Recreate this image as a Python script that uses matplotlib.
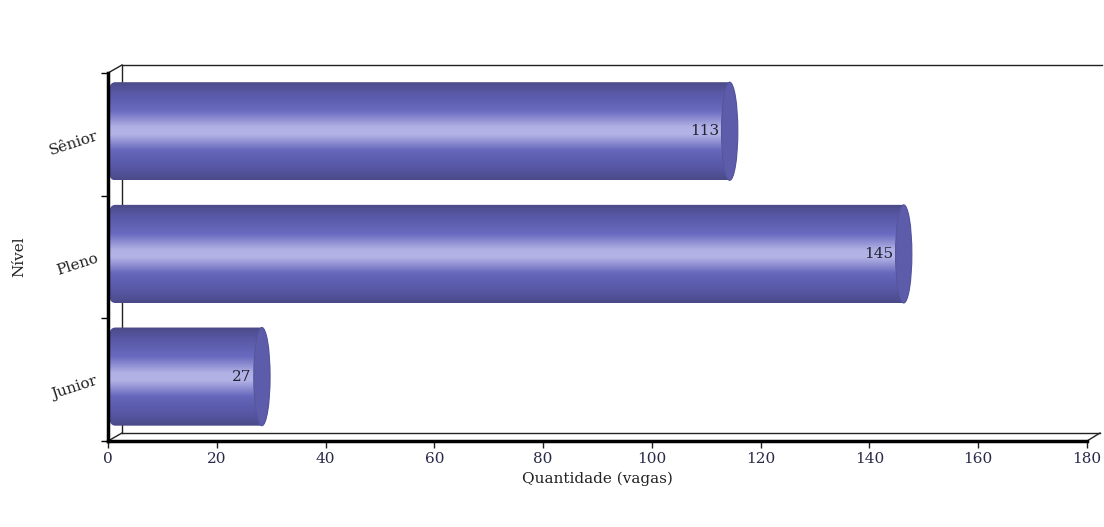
import matplotlib.pyplot as plt
import numpy as np
from matplotlib.path import Path
from matplotlib.patches import PathPatch, Ellipse
from matplotlib.colors import LinearSegmentedColormap

# data
niveis = ["Junior", "Pleno", "Sênior"]
vagas = [27, 145, 113]
x_ticks = [0, 20, 40, 60, 80, 100, 120, 140, 160, 180]

W, H = 1104, 527
plt.rcParams['font.family'] = ['DejaVu Serif', 'Liberation Serif']

fig = plt.figure(figsize=(W / 100, H / 100), dpi=100)
L, R, B, T = 108, 1087, 441, 73          # front plot box in pixels
ax = fig.add_axes([L / W, (H - B) / H, (R - L) / W, (B - T) / H])
ax.set_xlim(0, 180)
ax.set_ylim(-0.5, 2.5)

cmap = LinearSegmentedColormap.from_list("cyl", [
    (0.00, "#4a4a88"), (0.12, "#5656a4"), (0.30, "#6666bc"),
    (0.46, "#b3b3e6"), (0.54, "#b0b0e4"), (0.70, "#6a6ac0"),
    (0.88, "#5858a6"), (1.00, "#4a4a86")])
grad = np.linspace(0, 1, 256).reshape(-1, 1)

x0 = 0.35        # bar starts
rx = 1.5         # cap half width (data units)
dx = 1.3         # shift of cap center after the value
hh = 0.40        # half bar height
yoff = 0.025
cr_x, cr_y = 1.0, 0.04   # rounded left corners

for i, v in enumerate(vagas):
    yc = i + yoff
    xc = v + dx
    y0, y1 = yc - hh, yc + hh
    t = np.linspace(-np.pi / 2, np.pi / 2, 60)
    verts = [(x0 + cr_x, y0), (xc, y0)]
    verts += list(zip(xc + rx * np.cos(t), yc + hh * np.sin(t)))
    verts += [(xc, y1), (x0 + cr_x, y1)]
    a = np.linspace(np.pi / 2, np.pi, 12)
    verts += list(zip(x0 + cr_x + cr_x * np.cos(a), y1 - cr_y + cr_y * np.sin(a)))
    a = np.linspace(np.pi, 1.5 * np.pi, 12)
    verts += list(zip(x0 + cr_x + cr_x * np.cos(a), y0 + cr_y + cr_y * np.sin(a)))
    verts.append(verts[0])
    path = Path(verts)
    patch = PathPatch(path, facecolor="none", edgecolor="none")
    ax.add_patch(patch)
    im = ax.imshow(grad[::-1], cmap=cmap, aspect="auto",
                   extent=[x0, xc + rx, y0, y1], zorder=2, interpolation="bilinear")
    im.set_clip_path(patch)
    cap = Ellipse((xc, yc), 2 * rx, 2 * hh, facecolor="#5c5caa",
                  edgecolor="#55559e", lw=0.8, zorder=3)
    ax.add_patch(cap)
    ax.text(v - 0.6, yc, str(v), ha="right", va="center", fontsize=11,
            color="#222233", zorder=4)

ax.set_xlim(0, 180)
ax.set_ylim(-0.5, 2.5)

# 3d back wall
ox, oy = 14, 8
def fx(p):
    return p / W
def fy(p):
    return (H - p) / H
lc = "#222222"
back = [
    ([L, L + ox], [T, T - oy]),
    ([L + ox, 1102], [T - oy, T - oy]),
    ([L + ox, L + ox], [T - oy, B - oy]),
    ([L, L + ox], [B, B - oy]),
    ([L + ox, R + ox - 1], [B - oy, B - oy]),
    ([R, R + ox - 1], [B, B - oy]),
]
for xs, ys in back:
    fig.add_artist(plt.Line2D([fx(p) for p in xs], [fy(p) for p in ys],
                              color=lc, lw=1.0, zorder=0))

for s in ["top", "right"]:
    ax.spines[s].set_visible(False)
ax.spines["left"].set_linewidth(2.5)
ax.spines["bottom"].set_linewidth(2.5)
ax.patch.set_visible(False)

ax.set_xticks(x_ticks)
ax.tick_params(axis="x", length=5, width=1, labelsize=11, colors="#222222",
               labelcolor="#2a2a4a", pad=3)
ax.set_yticks([-0.5, 0.5, 1.5, 2.5])
ax.set_yticks([0, 1, 2], minor=True)
ax.set_yticklabels([], minor=False)
ax.set_yticklabels(niveis, minor=True, rotation=18, fontsize=11, color="#222222")
ax.tick_params(axis="y", which="major", length=5, width=1)
ax.tick_params(axis="y", which="minor", length=0, pad=6)

ax.set_xlabel("Quantidade (vagas)", fontsize=11, color="#222222", labelpad=4)
ax.set_ylabel("Nível", fontsize=11, color="#222222")
ax.yaxis.set_label_coords(-0.084, 0.5)

fig.savefig("out.png", dpi=100)
